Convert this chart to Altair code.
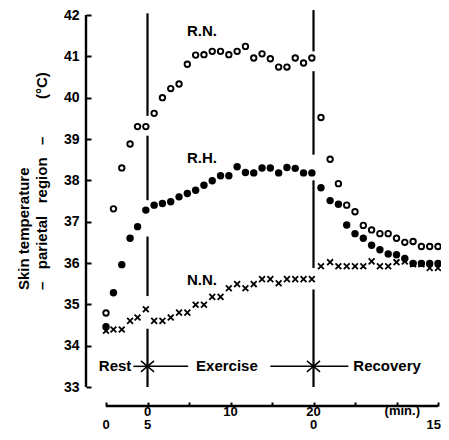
import altair as alt
import pandas as pd

# composite time (min): rest 0-5, exercise 5-25, recovery 25-40
rest_t = [0.0, 0.9, 1.9, 2.9, 3.8, 4.8]
exercise_t = [5.8, 6.8, 7.8, 8.8, 9.8, 10.8, 11.8, 12.8, 13.8, 14.8,
              15.8, 16.8, 17.8, 18.8, 19.8, 20.8, 21.8, 22.8, 23.8, 24.8]
recovery_t = [25.9, 27.0, 28.0, 29.0, 30.0, 31.0, 32.0, 33.0, 34.0, 35.0,
              36.0, 37.0, 38.0, 39.0, 40.0]

rn_rest = [34.79, 37.31, 38.30, 38.88, 39.30, 39.30]
rn_ex = [39.62, 40.00, 40.22, 40.33, 40.81, 41.03, 41.04, 41.12, 41.12, 41.04,
         41.12, 41.24, 40.96, 41.06, 40.94, 40.74, 40.74, 40.96, 40.84, 40.96]
rn_rec = [39.52, 38.51, 37.92, 37.40, 37.24, 36.91, 36.80, 36.71, 36.71, 36.60,
          36.50, 36.52, 36.40, 36.40, 36.40]

rh_rest = [34.46, 35.28, 35.96, 36.60, 36.88, 37.28]
rh_ex = [37.40, 37.44, 37.48, 37.60, 37.68, 37.76, 37.88, 37.99, 38.11, 38.11,
         38.33, 38.19, 38.18, 38.30, 38.30, 38.18, 38.31, 38.29, 38.18, 38.18]
rh_rec = [37.82, 37.51, 37.42, 36.92, 36.71, 36.60, 36.43, 36.32, 36.22, 36.20,
          36.11, 35.99, 35.99, 35.99, 35.99]

nn_rest = [34.36, 34.39, 34.39, 34.60, 34.68, 34.88]
nn_ex = [34.60, 34.60, 34.68, 34.80, 34.80, 34.99, 34.99, 35.18, 35.18, 35.39,
         35.49, 35.39, 35.49, 35.61, 35.61, 35.51, 35.61, 35.61, 35.61, 35.61]
nn_rec = [35.92, 36.02, 35.92, 35.92, 35.92, 35.92, 36.04, 35.92, 35.92, 36.02,
          36.04, 35.97, 35.97, 35.88, 35.88]

y_ticks = [33, 34, 35, 36, 37, 38, 39, 40, 41, 42]
x_ticks = [0, 5, 10, 15, 20, 25, 30, 35, 40]
x_top_labels = [(5, "0"), (15, "10"), (25, "20")]
x_bottom_labels = [(0, "0"), (5, "5"), (25, "0")]
x_end_label = [(40, "15")]

# phase separator segments (time, from, to)
sep_segments = [(5, 42.04, 39.56), (5, 39.08, 37.52), (5, 36.64, 35.20), (5, 34.41, 33.0),
                (25, 42.12, 41.12), (25, 40.64, 38.62), (25, 38.00, 35.88), (25, 35.36, 33.0)]
arrow_segments = [(3.3, 5.0), (5.0, 9.9), (19.8, 25.0), (25.0, 29.2)]
phase_labels = [(3.05, "Rest", "right"), (10.85, "Exercise", "left"), (29.8, "Recovery", "left")]
series_labels = [(9.75, 41.61, "R.N."), (9.75, 38.54, "R.H."), (9.75, 35.59, "N.N.")]

FONT = "Liberation Sans"
NB = "\u00a0"
ALL_T = rest_t + exercise_t + recovery_t

xs = alt.Scale(domain=[0, 40], nice=False, zero=False)
ys = alt.Scale(domain=[33, 42], nice=False, zero=False)
xaxis = alt.Axis(values=x_ticks, labels=False, domain=False, ticks=True, tickSize=4,
                 tickWidth=2, tickColor="black", offset=15, grid=False, title=None)
yaxis = alt.Axis(values=y_ticks, domain=False, ticks=True, tickSize=5, tickWidth=2,
                 tickColor="black", offset=15, labelPadding=7, labelFont=FONT,
                 labelFontSize=14, labelFontWeight="bold", labelColor="black",
                 grid=False, title=None)
X = alt.X("t:Q", scale=xs, axis=xaxis)
Y = alt.Y("v:Q", scale=ys, axis=yaxis)


def series_df(vals):
    return pd.DataFrame({"t": ALL_T, "v": vals})


rn = alt.Chart(series_df(rn_rest + rn_ex + rn_rec)).mark_point(
    shape="circle", filled=False, size=30, strokeWidth=1.9, color="black", opacity=1
).encode(x=X, y=Y)
rh = alt.Chart(series_df(rh_rest + rh_ex + rh_rec)).mark_circle(
    size=55, color="black", opacity=1
).encode(x=X, y=Y)
nn = alt.Chart(series_df(nn_rest + nn_ex + nn_rec)).mark_point(
    shape="M-1,-1L1,1M1,-1L-1,1", filled=False, size=34, strokeWidth=1.8,
    color="black", opacity=1
).encode(x=X, y=Y)

sep_df = pd.DataFrame(sep_segments, columns=["t", "v", "v2"])
seps = alt.Chart(sep_df).mark_rule(color="black", strokeWidth=2.2).encode(
    x=X, y=Y, y2="v2:Q")

ydom = alt.Chart(pd.DataFrame({"v": [33], "v2": [42]})).mark_rule(
    color="black", strokeWidth=2.4).encode(x=alt.value(-20), y=Y, y2="v2:Q")
xdom = alt.Chart(pd.DataFrame({"t": [0], "t2": [40]})).mark_rule(
    color="black", strokeWidth=2.4).encode(x=X, x2="t2:Q", y=alt.value(391))

arr_df = pd.DataFrame(arrow_segments, columns=["t", "t2"])
arr_df["v"] = 33.5
arrows = alt.Chart(arr_df).mark_rule(color="black", strokeWidth=1.5).encode(
    x=X, x2="t2:Q", y=Y)
chev_r = alt.Chart(pd.DataFrame({"t": [5, 25], "v": [33.5, 33.5]})).mark_point(
    shape="M-1.2,-1L0,0L-1.2,1", filled=False, size=120, strokeWidth=1.5,
    color="black", opacity=1).encode(x=X, y=Y)
chev_l = alt.Chart(pd.DataFrame({"t": [5, 25], "v": [33.5, 33.5]})).mark_point(
    shape="M1.2,-1L0,0L1.2,1", filled=False, size=120, strokeWidth=1.5,
    color="black", opacity=1).encode(x=X, y=Y)

ph_layers = []
for t, txt, al in phase_labels:
    ph_layers.append(alt.Chart(pd.DataFrame({"t": [t], "v": [33.5], "txt": [txt]})).mark_text(
        font=FONT, fontSize=15, fontWeight="bold", color="black", align=al,
        baseline="middle").encode(x=X, y=Y, text="txt:N"))

sl_df = pd.DataFrame(series_labels, columns=["t", "v", "txt"])
slabels = alt.Chart(sl_df).mark_text(
    font=FONT, fontSize=15, fontWeight="bold", color="black", align="left",
    baseline="middle").encode(x=X, y=Y, text="txt:N")

top_df = pd.DataFrame(x_top_labels, columns=["t", "txt"])
bot_df = pd.DataFrame(x_bottom_labels, columns=["t", "txt"])
end_df = pd.DataFrame(x_end_label, columns=["t", "txt"])
xlab_top = alt.Chart(top_df).mark_text(
    font=FONT, fontSize=13, fontWeight="bold", color="black", baseline="middle"
).encode(x=X, y=alt.value(396.5), text="txt:N")
xlab_bot = alt.Chart(bot_df).mark_text(
    font=FONT, fontSize=13, fontWeight="bold", color="black", baseline="middle"
).encode(x=X, y=alt.value(410), text="txt:N")
xlab_end = alt.Chart(end_df).mark_text(
    font=FONT, fontSize=13, fontWeight="bold", color="black", baseline="middle",
    align="right", dx=3
).encode(x=X, y=alt.value(410), text="txt:N")
xunit = alt.Chart(pd.DataFrame({"t": [35.7], "txt": ["(min.)"]})).mark_text(
    font=FONT, fontSize=13, fontWeight="bold", color="black", baseline="middle"
).encode(x=X, y=alt.value(396), text="txt:N")

title1 = alt.Chart(pd.DataFrame({"txt": ["Skin temperature"]})).mark_text(
    font=FONT, fontSize=15, fontWeight="bold", color="black", angle=270,
    align="left", baseline="middle").encode(
    x=alt.value(-82), y=alt.value(275), text="txt:N")
title2_text = "–" + NB * 3 + "parietal" + NB * 3 + "region" + NB * 3 + "–" + NB * 9 + "(°C)"
title2 = alt.Chart(pd.DataFrame({"txt": [title2_text]})).mark_text(
    font=FONT, fontSize=15, fontWeight="bold", color="black", angle=270,
    align="left", baseline="middle").encode(
    x=alt.value(-64), y=alt.value(275), text="txt:N")

chart = alt.layer(
    rn, seps, ydom, xdom, arrows, chev_r, chev_l, *ph_layers, slabels,
    xlab_top, xlab_bot, xlab_end, xunit, title1, title2, rh, nn
).properties(
    width=332, height=372,
    autosize=alt.AutoSizeParams(type="none"),
    padding={"left": 98, "top": 7, "right": 3, "bottom": 45},
    background="white",
).configure_view(stroke=None)

chart.save("out.html", embed_options={"renderer": "svg", "actions": False})
